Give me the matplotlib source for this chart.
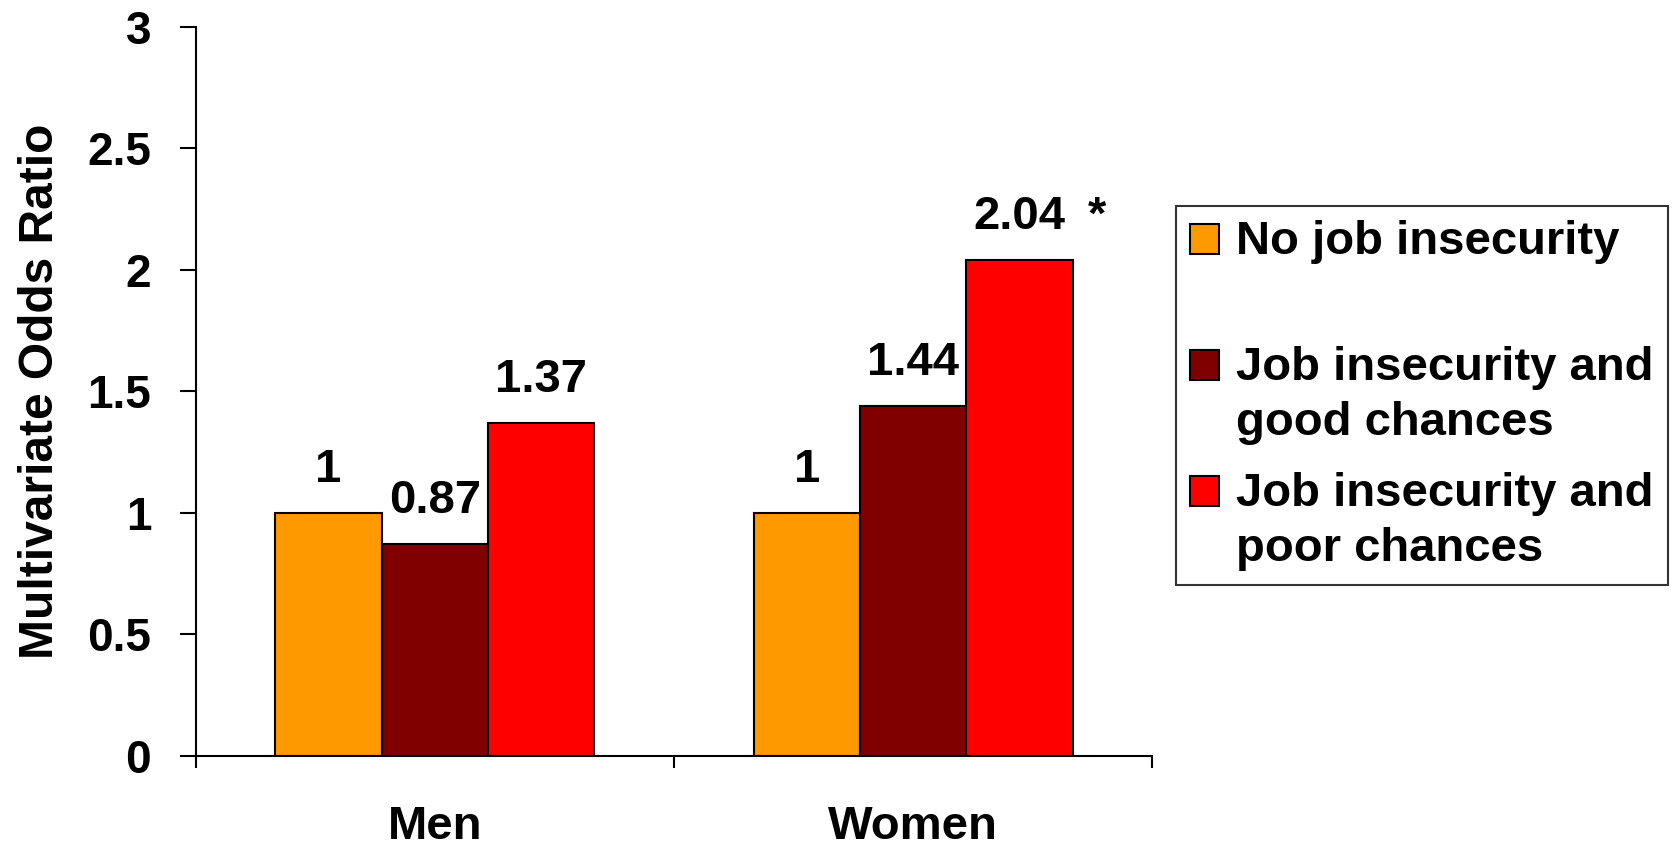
import matplotlib
matplotlib.use("Agg")
import matplotlib.pyplot as plt
import numpy as np
from matplotlib.patches import Rectangle
from matplotlib.legend_handler import HandlerPatch
import matplotlib.transforms as mtransforms

plt.rcParams['font.family'] = ['Liberation Sans', 'DejaVu Sans']
plt.rcParams['font.weight'] = 'bold'

categories = ["Men", "Women"]
series_names = ["No job insecurity",
                "Job insecurity and\ngood chances",
                "Job insecurity and\npoor chances"]
legend_labels = ["No job insecurity\n ",
                 "Job insecurity and\ngood chances",
                 "Job insecurity and\npoor chances"]
values = {
    "No job insecurity": [1.00, 1.00],
    "Job insecurity and\ngood chances": [0.87, 1.44],
    "Job insecurity and\npoor chances": [1.37, 2.04],
}
value_labels = {
    "No job insecurity": ["1", "1"],
    "Job insecurity and\ngood chances": ["0.87", "1.44"],
    "Job insecurity and\npoor chances": ["1.37", "2.04"],
}
significance = {
    "Job insecurity and\npoor chances": ["", "*"],
}
colors = ["#FF9900", "#800000", "#FF0000"]
yticks = [0, 0.5, 1, 1.5, 2, 2.5, 3]
ytick_labels = ["0", "0.5", "1", "1.5", "2", "2.5", "3"]

FS = 34

fig = plt.figure(figsize=(16.76, 8.49), dpi=100)
ax = fig.add_axes([0.1167, 0.1098, 0.5709, 0.8588])

x = np.arange(len(categories))
bw = 0.2225
handles = []
for i, name in enumerate(series_names):
    pos = x + (i - 1) * bw
    bars = ax.bar(pos, values[name], width=bw, color=colors[i],
                  edgecolor="black", linewidth=1.5, label=legend_labels[i])
    handles.append(bars[0])
    for j, b in enumerate(bars):
        ax.annotate(value_labels[name][j], (b.get_x() + b.get_width() / 2, b.get_height()),
                    xytext=(0, 21), textcoords="offset pixels", ha="center", va="bottom",
                    fontsize=FS, fontweight="bold")
        if name in significance and significance[name][j]:
            ax.annotate(significance[name][j], (b.get_x() + b.get_width() / 2, b.get_height()),
                        xytext=(77, 21), textcoords="offset pixels", ha="center", va="bottom",
                        fontsize=FS, fontweight="bold")

ax.set_xlim(-0.5, len(categories) - 0.5)
ax.set_ylim(0, 3)
ax.set_yticks(yticks)
ax.set_yticklabels(ytick_labels, fontsize=33, fontweight="bold")
ax.set_xticks(np.arange(len(categories) + 1) - 0.5)
ax.set_xticklabels([])
ax.tick_params(axis="y", direction="out", length=11.5, width=1.5, pad=20.5)
ax.tick_params(axis="x", direction="out", length=8.5, width=1.5)
for s in ["top", "right"]:
    ax.spines[s].set_visible(False)
for s in ["left", "bottom"]:
    ax.spines[s].set_linewidth(1.5)

trans = mtransforms.blended_transform_factory(ax.transData, ax.transAxes)
for j, c in enumerate(categories):
    ax.text(x[j], -0.114, c, transform=trans, ha="center", va="baseline",
            fontsize=FS, fontweight="bold")

ax.set_ylabel("Multivariate Odds Ratio", fontsize=34.5, fontweight="bold")
ax.yaxis.set_label_coords(-0.139, 0.5)


class HandlerTop(HandlerPatch):
    def __init__(self, shift, **kw):
        super().__init__(**kw)
        self.shift = shift

    def create_artists(self, legend, orig_handle, xdescent, ydescent, width, height,
                       fontsize, trans):
        p = Rectangle(xy=(-xdescent, -ydescent + self.shift * fontsize),
                      width=width, height=height)
        self.update_prop(p, orig_handle, legend)
        p.set_transform(trans)
        return [p]


leg = fig.legend(handles, legend_labels, loc="upper left",
                 bbox_to_anchor=(1176 / 1676, 1 - 206 / 849), frameon=True, fancybox=False,
                 prop={"size": FS, "weight": "bold"}, handlelength=0.62, handleheight=0.62,
                 handletextpad=0.36, labelspacing=0.58, borderpad=0.3, borderaxespad=0,
                 handler_map={Rectangle: HandlerTop(0.65)})
for t in leg.get_texts():
    t.set_linespacing(1.31)
leg.get_frame().set_edgecolor("black")
leg.get_frame().set_linewidth(1.5)

fig.savefig("out.png", dpi=100)
